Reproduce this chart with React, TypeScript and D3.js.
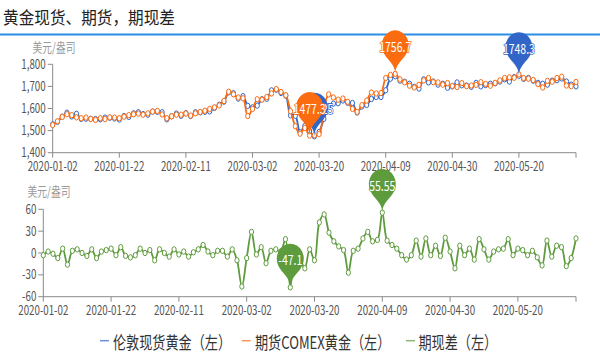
import React from 'react';
import * as d3 from 'd3';

const dates: string[] = [
  '2020-01-02','2020-01-03','2020-01-06','2020-01-07','2020-01-08','2020-01-09','2020-01-10','2020-01-13','2020-01-14','2020-01-15',
  '2020-01-16','2020-01-17','2020-01-20','2020-01-21','2020-01-22','2020-01-23','2020-01-24','2020-01-27','2020-01-28','2020-01-29',
  '2020-01-30','2020-01-31','2020-02-03','2020-02-04','2020-02-05','2020-02-06','2020-02-07','2020-02-10','2020-02-11','2020-02-12',
  '2020-02-13','2020-02-14','2020-02-17','2020-02-18','2020-02-19','2020-02-20','2020-02-21','2020-02-24','2020-02-25','2020-02-26',
  '2020-02-27','2020-02-28','2020-03-02','2020-03-03','2020-03-04','2020-03-05','2020-03-06','2020-03-09','2020-03-10','2020-03-11',
  '2020-03-12','2020-03-13','2020-03-16','2020-03-17','2020-03-18','2020-03-19','2020-03-20','2020-03-23','2020-03-24','2020-03-25',
  '2020-03-26','2020-03-27','2020-03-30','2020-03-31','2020-04-01','2020-04-02','2020-04-03','2020-04-06','2020-04-07','2020-04-08',
  '2020-04-09','2020-04-13','2020-04-14','2020-04-15','2020-04-16','2020-04-17','2020-04-20','2020-04-21','2020-04-22','2020-04-23',
  '2020-04-24','2020-04-27','2020-04-28','2020-04-29','2020-04-30','2020-05-01','2020-05-04','2020-05-05','2020-05-06','2020-05-07',
  '2020-05-08','2020-05-11','2020-05-12','2020-05-13','2020-05-14','2020-05-15','2020-05-18','2020-05-19','2020-05-20','2020-05-21',
  '2020-05-22','2020-05-25','2020-05-26','2020-05-27','2020-05-28','2020-05-29','2020-06-01','2020-06-02','2020-06-03','2020-06-04',
  '2020-06-05',
];

// 伦敦现货黄金
const spot: number[] = [
  1528,1540,1563,1581,1564,1576,1553,1554,1553,1552,
  1551,1559,1558,1555,1550,1566,1562,1578,1583,1575,
  1572,1586,1585,1583,1551,1565,1577,1567,1579,1566,
  1583,1583,1585,1587,1603,1617,1631,1673,1669,1645,
  1656,1612,1605,1613,1642,1644,1682,1685,1670,1658,
  1569,1567.1,1492,1521,1498.3,1474.25,1494,1553,1611,1622,
  1624,1636,1626,1625,1582,1609,1616,1643,1652,1652,
  1682.45,1735,1745.7,1726,1721,1712,1698,1690,1732,1718,
  1722,1708,1712,1694,1700,1718,1705,1704,1698,1716,
  1700,1706,1712,1714,1722,1732,1722,1742,1748.3,1734,
  1738,1726,1716,1712,1708,1726,1728,1736,1722,1708,
  1700,
];

// 期货COMEX黄金
const futures: number[] = [
  1525,1542,1562,1574,1570,1560,1556,1559,1553,1548,
  1556,1552,1560,1559,1556,1563,1570,1574,1577,1572,
  1578,1586,1589,1573,1556,1565,1572,1572,1577,1568,
  1578,1584,1590,1598,1605,1614,1634,1676,1664,1650,
  1646,1566,1598,1642,1640,1652,1668,1688,1675,1660,
  1588,1520,1486,1512,1477.3,1479.25,1484,1595,1664,1650,
  1640,1645,1630,1598,1585,1615,1636,1672,1668,1670,
  1738,1752,1756.7,1732,1718,1703,1695,1707,1727,1738,
  1719,1718,1708,1715,1702,1697,1715,1701,1704,1707,
  1719,1711,1703,1716,1727,1738,1741,1739,1754.3,1738,
  1735,1729,1710,1695,1725,1721,1738,1744,1704,1701,
  1720,
];

// 期现差
const spread: number[] = [
  -3,2,-1,-7,6,-16,3,5,0,-4,
  5,-7,2,4,6,-3,8,-4,-6,-3,
  6,0,4,-10,5,0,-5,5,-2,2,
  -5,1,5,11,2,-3,3,3,-5,5,
  -10,-46,-7,29,-2,8,-14,3,5,2,
  19,-47.1,-6,-9,-21,5,-10,42,53,28,
  16,9,4,-27,3,6,20,29,16,18,
  55.55,17,11,6,-3,-9,-3,17,-5,20,
  -3,10,-4,21,2,-21,10,-3,6,-9,
  19,5,-9,2,5,6,19,-3,6,4,
  -3,3,-6,-17,17,-5,10,8,-18,-7,
  20,
];

const xTickLabels = ['2020-01-02','2020-01-22','2020-02-11','2020-03-02','2020-03-20','2020-04-09','2020-04-30','2020-05-20'];
const topYTicks = [1400, 1500, 1600, 1700, 1800];
const bottomYTicks = [-60, -30, 0, 30, 60];
const legendLabels = ['伦敦现货黄金（左）', '期货COMEX黄金（左）', '期现差（左）'];
const titleText = '黄金现货、期货，期现差';
const unitText = '美元/盎司';

const BLUE = '#3165c8';
const ORANGE = '#fb6b10';
const GREEN = '#5e9b3d';
const FONT = "'Noto Sans CJK SC', 'Microsoft YaHei', sans-serif";
const SX = 0.75;
const PIN_SX = 0.9;

function pinPath(width: number, height: number) {
  const x = 0, y = 0;
  const w = (width / 5) * 3;
  const h = Math.max(w, height);
  const r = w / 2;
  const dy = (r * r) / (h - r);
  const cy = y - h + r + dy;
  const angle = Math.asin(dy / r);
  const dx = Math.cos(angle) * r;
  const tanX = Math.sin(angle);
  const tanY = Math.cos(angle);
  const cpLen = r * 0.6;
  const cpLen2 = r * 0.7;
  const p = d3.path();
  p.moveTo(x - dx, cy + dy);
  p.arc(x, cy, r, Math.PI - angle, Math.PI * 2 + angle);
  p.bezierCurveTo(x + dx - tanX * cpLen, cy + dy + tanY * cpLen, x, y - cpLen2, x, y);
  p.bezierCurveTo(x, y - cpLen2, x - dx + tanX * cpLen, cy + dy + tanY * cpLen, x - dx, cy + dy);
  p.closePath();
  return p.toString();
}

const PIN = pinPath(50, 50);

function T(props: any) {
  const { x, y, sx = SX, children, ...rest } = props;
  return (
    <text transform={`translate(${x},${y}) scale(${sx},1)`} fontFamily={FONT} {...rest}>
      {children}
    </text>
  );
}

function Pin({ x, y, color, label }: { x: number; y: number; color: string; label: string }) {
  return (
    <g transform={`translate(${x},${y})`}>
      <path d={PIN} transform={`scale(${PIN_SX},1)`} fill={color} />
      <T x={0} y={-22} fontSize={14} fill="#fff" textAnchor="middle" stroke={color} strokeWidth={1.5} paintOrder="stroke">
        {label}
      </T>
    </g>
  );
}

function Series({ values, x, y, color, width = 1.8 }: any) {
  const line = d3
    .line<number>()
    .x((_, i) => x(dates[i]))
    .y((v) => y(v))
    .curve(d3.curveCatmullRom.alpha(0.5));
  return (
    <g>
      <path d={line(values) || ''} fill="none" stroke={color} strokeWidth={width} />
      {values.map((v: number, i: number) => (
        <ellipse key={i} cx={x(dates[i])} cy={y(v)} rx={2.1} ry={2.7} fill="#fff" stroke={color} strokeWidth={1} />
      ))}
    </g>
  );
}

export default function App() {
  const xTop = d3.scalePoint<string>().domain(dates).range([52.7, 576]);
  const yTop = d3.scaleLinear().domain([1400, 1800]).range([152.7, 64.3]);
  const xBot = d3.scalePoint<string>().domain(dates).range([43.3, 576]);
  const yBot = d3.scaleLinear().domain([-60, 60]).range([296.7, 209.3]);

  const iMaxSpot = d3.maxIndex(spot);
  const iMinSpot = d3.minIndex(spot);
  const iMaxFut = d3.maxIndex(futures);
  const iMinFut = d3.minIndex(futures);
  const iMaxSp = d3.maxIndex(spread);
  const iMinSp = d3.minIndex(spread);

  const axisColor = '#8a8a8a';
  const labelColor = '#555';

  const xAxis = (x: any, yPos: number, key: string) => (
    <g key={key}>
      <line x1={x.range()[0]} x2={x.range()[1]} y1={yPos} y2={yPos} stroke={axisColor} />
      {xTickLabels.map((d) => (
        <g key={d}>
          <line x1={x(d)} x2={x(d)} y1={yPos} y2={yPos + 5} stroke={axisColor} />
          <T x={x(d)} y={yPos + 18.5} fontSize={13} fill={labelColor} textAnchor="middle">
            {d}
          </T>
        </g>
      ))}
      <line x1={x.range()[1]} x2={x.range()[1]} y1={yPos} y2={yPos + 5} stroke={axisColor} />
    </g>
  );

  const yAxis = (y: any, ticks: number[], xPos: number, fmt: (v: number) => string, key: string) => (
    <g key={key}>
      <line x1={xPos} x2={xPos} y1={y.range()[0]} y2={y.range()[1]} stroke={axisColor} />
      {ticks.map((t) => (
        <g key={t}>
          <line x1={xPos - 5} x2={xPos} y1={y(t)} y2={y(t)} stroke={axisColor} />
          <T x={xPos - 7} y={y(t) + 4.5} fontSize={13} fill={labelColor} textAnchor="end">
            {fmt(t)}
          </T>
        </g>
      ))}
    </g>
  );

  const legendColors = [BLUE, ORANGE, GREEN];
  const legendDash = [[100, 109], [241.7, 250.5], [406, 415]];
  const legendTextX = [113, 255, 418.5];

  return (
    <svg
      width={600}
      height={358}
      viewBox="0 0 600 358"
      style={{ position: 'absolute', left: 0, top: 0, background: '#fff' }}
    >
      <rect x={0} y={0} width={600} height={358} fill="#fff" />
      <T x={3} y={23.5} sx={0.92} fontSize={17} fill="#222">
        {titleText}
      </T>
      <line x1={0} x2={600} y1={34.4} y2={34.4} stroke="#2a8de8" strokeWidth={2} />

      {/* top chart */}
      <T x={54} y={51.5} fontSize={13} fill="#999" textAnchor="middle">
        {unitText}
      </T>
      {yAxis(yTop, topYTicks, 52.7, d3.format(','), 'yt')}
      {xAxis(xTop, 152.7, 'xt')}
      <Series values={spot} x={xTop} y={yTop} color={BLUE} />
      <Series values={futures} x={xTop} y={yTop} color={ORANGE} />

      {/* bottom chart */}
      <T x={49} y={196} fontSize={13} fill="#999" textAnchor="middle">
        {unitText}
      </T>
      {yAxis(yBot, bottomYTicks, 43.3, (v) => String(v), 'yb')}
      {xAxis(xBot, 296.7, 'xb')}
      <Series values={spread} x={xBot} y={yBot} color={GREEN} width={1.8} />

      {/* mark pins */}
      <Pin x={xTop(dates[iMaxSpot])!} y={yTop(spot[iMaxSpot])} color={BLUE} label={String(spot[iMaxSpot])} />
      <Pin x={xTop(dates[iMinSpot])!} y={yTop(spot[iMinSpot])} color={BLUE} label={String(spot[iMinSpot])} />
      <Pin x={xTop(dates[iMaxFut])!} y={yTop(futures[iMaxFut])} color={ORANGE} label={String(futures[iMaxFut])} />
      <Pin x={xTop(dates[iMinFut])!} y={yTop(futures[iMinFut])} color={ORANGE} label={String(futures[iMinFut])} />
      <Pin x={xBot(dates[iMaxSp])!} y={yBot(spread[iMaxSp])} color={GREEN} label={String(spread[iMaxSp])} />
      <Pin x={xBot(dates[iMinSp])!} y={yBot(spread[iMinSp])} color={GREEN} label={String(spread[iMinSp])} />

      {/* legend */}
      {legendLabels.map((l, i) => (
        <g key={l}>
          <line x1={legendDash[i][0]} x2={legendDash[i][1]} y1={340.7} y2={340.7} stroke={legendColors[i]} strokeWidth={1.5} opacity={0.7} />
          <T x={legendTextX[i]} y={349} fontSize={17.5} fill="#333">
            {l}
          </T>
        </g>
      ))}
    </svg>
  );
}
